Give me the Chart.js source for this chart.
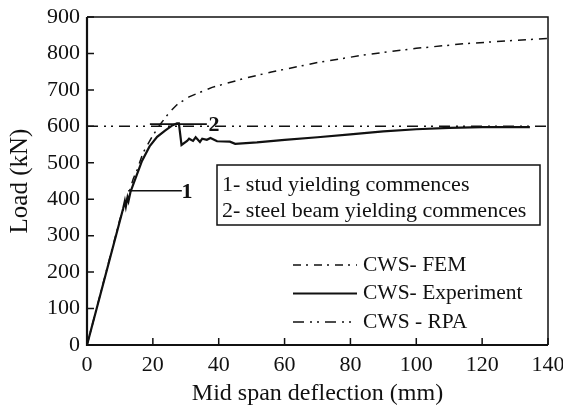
<!DOCTYPE html>
<html>
<head>
<meta charset="utf-8">
<script src="https://cdn.jsdelivr.net/npm/chart.js"></script>
<style>
  body { margin: 0; background: #fff; }
  #grafico { display: block; }
</style>
</head>
<body>
<canvas id="grafico" width="563" height="408"></canvas>
<script>
const SERIF = '"Liberation Serif", "Times New Roman", serif';

// FEM curve
const femDefl = [0, 10, 12.5, 14, 15.2, 17, 20, 22.2, 25, 27.3, 31, 38, 48, 56, 70, 85, 100, 115, 130, 140];
const femLoad = [0, 345, 410, 455, 480, 527, 575, 605, 638, 659, 681, 707, 732, 749, 775, 797, 814, 827, 836, 841];

// test curve
const expDefl = [0, 11, 11.5, 11.8, 12.3, 12.6, 13.2, 14.5, 16.7, 19, 21.3, 23.7, 25.8, 27.3, 27.9, 28.7, 30.4, 31, 32.2, 33,
  34.3, 35, 36.4, 37.5, 39.5, 43.4, 45, 51.6, 60, 70, 80, 90, 100, 110, 120, 134.5];
const expLoad = [0, 375, 395, 380, 405, 395, 420, 452, 505, 545, 571, 588, 602, 608, 608, 549, 560, 566, 560, 570,
  557, 566, 563, 568, 559, 558, 552, 556, 563, 570, 578, 586, 592, 596, 598, 598];

// RPA plateau
const rpaDefl = [0, 140];
const rpaLoad = [600, 600];

// marker leaders: 1 = stud yielding, 2 = steel beam yielding
const leader1Defl = [12.5, 28.8];
const leader1Load = [423, 423];
const leader2Defl = [19.1, 36.4];
const leader2Load = [606, 606];
const markerText = ['1', '2'];
const markerDefl = [30.4, 38.6];
const markerLoad = [420, 604];

const xTicks = [0, 20, 40, 60, 80, 100, 120, 140];
const yTicks = [0, 100, 200, 300, 400, 500, 600, 700, 800, 900];

const legendLabels = ['CWS- FEM', 'CWS- Experiment', 'CWS - RPA'];
const noteLines = ['1- stud yielding commences', '2- steel beam yielding commences'];

const toPts = (xs, ys) => xs.map((x, i) => ({ x: x, y: ys[i] }));

const FEM_DASH = [8, 5, 2, 6];
const RPA_DASH = [11, 6, 2, 5, 2, 6];

const line = (data, width, dash) => ({
  data: data,
  borderColor: '#111',
  borderWidth: width,
  borderDash: dash,
  pointRadius: 0,
  fill: false,
  tension: 0,
  showLine: true
});

// frame, inward ticks, markers, note box and legend
const extras = {
  id: 'extras',
  afterDraw(chart) {
    const ctx = chart.ctx;
    const a = chart.chartArea;
    const sx = chart.scales.x, sy = chart.scales.y;
    ctx.save();
    ctx.strokeStyle = '#111';
    ctx.setLineDash([]);

    ctx.lineWidth = 1.5;
    ctx.beginPath();
    ctx.moveTo(a.left, a.top); ctx.lineTo(a.right, a.top); ctx.lineTo(a.right, a.bottom);
    ctx.stroke();
    ctx.lineWidth = 2.2;
    ctx.beginPath();
    ctx.moveTo(a.left, a.top); ctx.lineTo(a.left, a.bottom); ctx.lineTo(a.right, a.bottom);
    ctx.stroke();

    ctx.lineWidth = 1.5;
    ctx.beginPath();
    xTicks.forEach(v => {
      const px = sx.getPixelForValue(v);
      ctx.moveTo(px, a.bottom); ctx.lineTo(px, a.bottom - 7);
    });
    yTicks.forEach(v => {
      const py = sy.getPixelForValue(v);
      ctx.moveTo(a.left, py); ctx.lineTo(a.left + 7, py);
    });
    ctx.stroke();

    ctx.fillStyle = '#111';
    ctx.font = 'bold 22px ' + SERIF;
    ctx.textAlign = 'center';
    ctx.textBaseline = 'middle';
    markerText.forEach((t, i) => {
      ctx.fillText(t, sx.getPixelForValue(markerDefl[i]), sy.getPixelForValue(markerLoad[i]));
    });

    // note box
    ctx.lineWidth = 1.5;
    ctx.strokeRect(217, 165, 323, 60);
    ctx.font = '22px ' + SERIF;
    ctx.textAlign = 'left';
    noteLines.forEach((t, i) => ctx.fillText(t, 222, 185 + i * 26));

    // legend
    ctx.font = '21.5px ' + SERIF;
    const dashes = [FEM_DASH, [], RPA_DASH];
    const widths = [1.5, 2.2, 1.5];
    legendLabels.forEach((t, i) => {
      const y = 265 + i * 28.5;
      ctx.setLineDash(dashes[i]);
      ctx.lineWidth = widths[i];
      ctx.beginPath();
      ctx.moveTo(293, y); ctx.lineTo(357, y);
      ctx.stroke();
      ctx.setLineDash([]);
      ctx.fillText(t, 363, y);
    });
    ctx.restore();
  }
};

new Chart(document.getElementById('grafico'), {
  type: 'scatter',
  data: {
    datasets: [
      line(toPts(femDefl, femLoad), 1.5, FEM_DASH),
      line(toPts(expDefl, expLoad), 2.2, []),
      line(toPts(rpaDefl, rpaLoad), 1.5, RPA_DASH),
      line(toPts(leader1Defl, leader1Load), 1.5, []),
      line(toPts(leader2Defl, leader2Load), 1.8, [])
    ]
  },
  options: {
    responsive: false,
    animation: false,
    devicePixelRatio: 1,
    layout: { padding: { top: 17, right: 15, left: 0, bottom: 0 } },
    plugins: { legend: { display: false }, tooltip: { enabled: false } },
    scales: {
      x: {
        type: 'linear', min: 0, max: 140,
        grid: { display: false },
        border: { display: false },
        afterBuildTicks: s => { s.ticks = xTicks.map(v => ({ value: v })); },
        afterFit: s => { s.height = 63; s.paddingLeft = 0; s.paddingRight = 0; },
        ticks: { color: '#111', padding: -1, maxRotation: 0, font: { family: SERIF, size: 22 } },
        title: { display: true, text: 'Mid span deflection (mm)', color: '#111', padding: 0,
          font: { family: SERIF, size: 24 } }
      },
      y: {
        type: 'linear', min: 0, max: 900,
        grid: { display: false },
        border: { display: false },
        afterBuildTicks: s => { s.ticks = yTicks.map(v => ({ value: v })); },
        afterFit: s => { s.width = 87; s.paddingTop = 0; s.paddingBottom = 0; },
        ticks: { color: '#111', padding: -1, font: { family: SERIF, size: 22 } },
        title: { display: true, text: 'Load (kN)', color: '#111', padding: { top: 5, bottom: 0 },
          font: { family: SERIF, size: 25 } }
      }
    }
  },
  plugins: [extras]
});
</script>
</body>
</html>
